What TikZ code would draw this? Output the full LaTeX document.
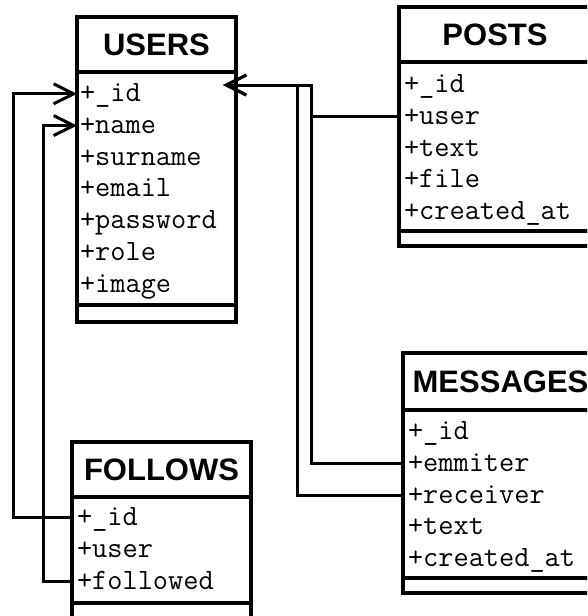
\documentclass[tikz,border=0pt]{standalone}
\usepackage{fontspec}
\setsansfont{Liberation Sans}
\usetikzlibrary{positioning,arrows.meta}

\tikzset{
	box/.style={draw, line width=3.5pt, outer sep=0pt, inner sep=0pt},
	title/.style={box, minimum height=55pt, font=\sffamily\bfseries\fontsize{31}{31}\selectfont},
	field/.style={inner sep=0pt, outer sep=0pt, minimum height=31.7pt, text width=185pt, align=left,
		text height=18pt, text depth=2pt, font=\ttfamily\fontsize{29.5}{29.5}\selectfont},
	link/.style={line width=3pt},
}

\begin{document}
\begin{tikzpicture}[x=1pt, y=-1pt, >={Straight Barb[length=20pt, width=20pt]}]
	\path [use as bounding box, clip] (0,0) rectangle (587,616);

	% Tables {users, posts, messages, follows}
	\node [title, minimum width=159pt, anchor=north west] (users) at (77,17) {USERS};
	\node [box, minimum width=159pt, minimum height=233pt, below=0pt of users] (usersbody) {};
	\node [box, minimum width=159pt, minimum height=17pt, below=0pt of usersbody] (usersfoot) {};

	\node [title, minimum width=192pt, anchor=north west] (posts) at (399,7) {POSTS};
	\node [box, minimum width=192pt, minimum height=169pt, below=0pt of posts] (postsbody) {};
	\node [box, minimum width=192pt, minimum height=15pt, below=0pt of postsbody] (postsfoot) {};

	\node [title, minimum width=195pt, minimum height=57pt, anchor=north west] (messages) at (403,353) {MESSAGES};
	\node [box, minimum width=195pt, minimum height=168pt, below=0pt of messages] (messagesbody) {};
	\node [box, minimum width=195pt, minimum height=15pt, below=0pt of messagesbody] (messagesfoot) {};

	\node [title, minimum width=179pt, anchor=north west] (follows) at (72,442) {FOLLOWS};
	\node [box, minimum width=179pt, minimum height=106pt, below=0pt of follows] (followsbody) {};
	\node [box, minimum width=179pt, minimum height=17pt, below=0pt of followsbody] (followsfoot) {};

	% Fields
	\node [field, below right=6pt and 3pt of usersbody.north west] (u1) {+\_id};
	\node [field, below=0pt of u1] (u2) {+name};
	\node [field, below=0pt of u2] (u3) {+surname};
	\node [field, below=0pt of u3] (u4) {+email};
	\node [field, below=0pt of u4] (u5) {+password};
	\node [field, below=0pt of u5] (u6) {+role};
	\node [field, below=0pt of u6] (u7) {+image};

	\node [field, below right=7pt and 5pt of postsbody.north west] (p1) {+\_id};
	\node [field, below=0pt of p1] (p2) {+user};
	\node [field, below=0pt of p2] (p3) {+text};
	\node [field, below=0pt of p3] (p4) {+file};
	\node [field, below=0pt of p4] (p5) {+created\_at};

	\node [field, below right=6pt and 5pt of messagesbody.north west] (m1) {+\_id};
	\node [field, below=0pt of m1] (m2) {+emmiter};
	\node [field, below=0pt of m2] (m3) {+receiver};
	\node [field, below=0pt of m3] (m4) {+text};
	\node [field, below=0pt of m4] (m5) {+created\_at};

	\node [field, below right=5pt and 5pt of followsbody.north west] (f1) {+\_id};
	\node [field, below=0pt of f1] (f2) {+user};
	\node [field, below=0pt of f2] (f3) {+followed};

	% Bends
	\coordinate (l1) at (13,0);
	\coordinate (l2) at (43,0);
	\coordinate (r1) at (311,0);
	\coordinate (r2) at (297,0);
	\coordinate (uin) at ([yshift=-13pt]usersbody.north east);

	% Links
	\draw [link, ->] (f1.west -| followsbody.west) -- (f1.west -| l1) -- (u1.west -| l1) -- (u1.west -| usersbody.west);
	\draw [link, ->] (f3.west -| followsbody.west) -- (f3.west -| l2) -- (u2.west -| l2) -- (u2.west -| usersbody.west);
	\draw [link] (m2.west -| messagesbody.west) -- (m2.west -| r1) -- (uin -| r1);
	\draw [link, ->, shorten >=-13pt] (m3.west -| messagesbody.west) -- (m3.west -| r2) -- (uin -| r2) -- (uin);
	\draw [link, ->, shorten >=-13pt] (p2.west -| postsbody.west) -- (p2.west -| r1) -- (uin -| r1) -- (uin);
\end{tikzpicture}
\end{document}
